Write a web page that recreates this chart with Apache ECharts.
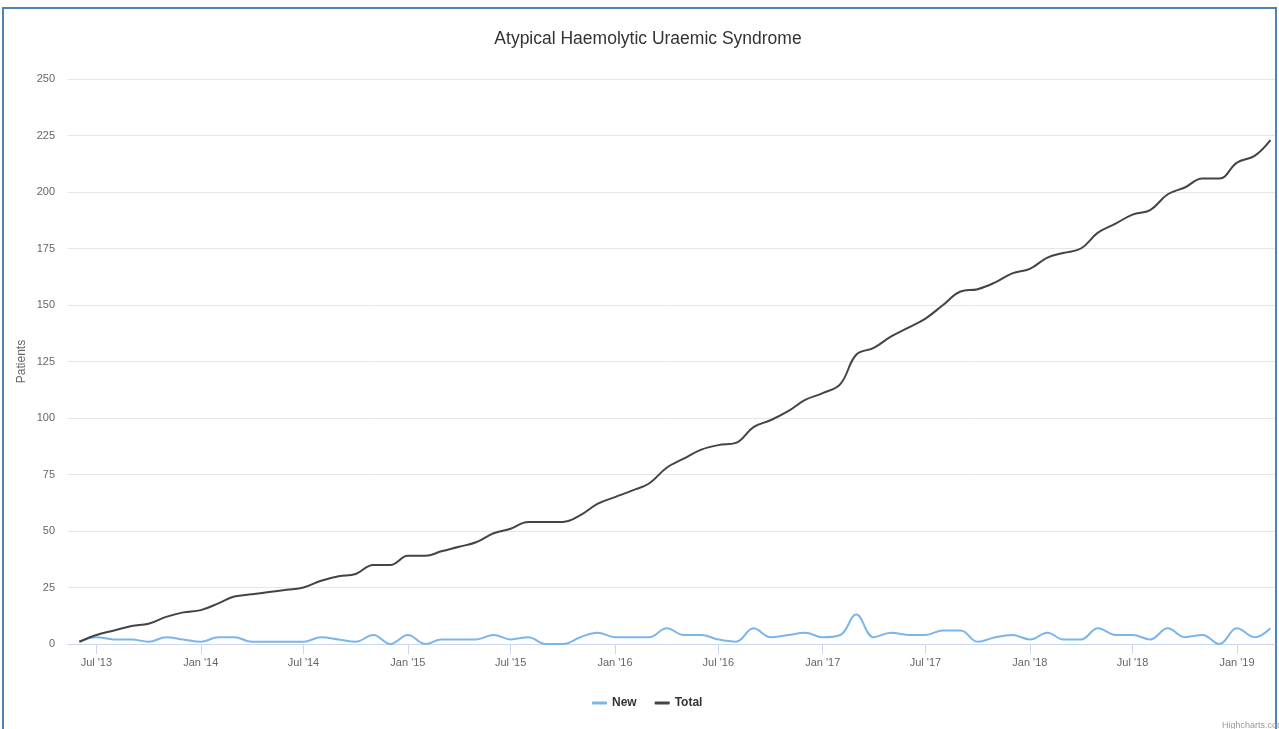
<!DOCTYPE html>
<html>
<head>
<meta charset="utf-8">
<script src="https://cdn.jsdelivr.net/npm/echarts@6/dist/echarts.min.js"></script>
<style>
  html, body { margin: 0; padding: 0; background: #ffffff; }
  #chart { width: 1279px; height: 729px; }
</style>
</head>
<body>
<div id="chart"></div>
<script>
const months = [
  '2013-06-01','2013-07-01','2013-08-01','2013-09-01','2013-10-01','2013-11-01','2013-12-01',
  '2014-01-01','2014-02-01','2014-03-01','2014-04-01','2014-05-01','2014-06-01','2014-07-01','2014-08-01','2014-09-01','2014-10-01','2014-11-01','2014-12-01',
  '2015-01-01','2015-02-01','2015-03-01','2015-04-01','2015-05-01','2015-06-01','2015-07-01','2015-08-01','2015-09-01','2015-10-01','2015-11-01','2015-12-01',
  '2016-01-01','2016-02-01','2016-03-01','2016-04-01','2016-05-01','2016-06-01','2016-07-01','2016-08-01','2016-09-01','2016-10-01','2016-11-01','2016-12-01',
  '2017-01-01','2017-02-01','2017-03-01','2017-04-01','2017-05-01','2017-06-01','2017-07-01','2017-08-01','2017-09-01','2017-10-01','2017-11-01','2017-12-01',
  '2018-01-01','2018-02-01','2018-03-01','2018-04-01','2018-05-01','2018-06-01','2018-07-01','2018-08-01','2018-09-01','2018-10-01','2018-11-01','2018-12-01',
  '2019-01-01','2019-02-01','2019-03-01'
];

const newPatients = [
  1,3,2,2,1,3,2,
  1,3,3,1,1,1,1,3,2,1,4,0,
  4,0,2,2,2,4,2,3,0,0,3,5,
  3,3,3,7,4,4,2,1,7,3,4,5,
  3,4,13,3,5,4,4,6,6,1,3,4,
  2,5,2,2,7,4,4,2,7,3,4,0,
  7,3,7
];

const totalPatients = [
  1,4,6,8,9,12,14,
  15,18,21,22,23,24,25,28,30,31,35,35,
  39,39,41,43,45,49,51,54,54,54,57,62,
  65,68,71,78,82,86,88,89,96,99,103,108,
  111,115,128,131,136,140,144,150,156,157,160,164,
  166,171,173,175,182,186,190,192,199,202,206,206,
  213,216,223
];

const tickDates = ['2013-07-01','2014-01-01','2014-07-01','2015-01-01','2015-07-01','2016-01-01',
                   '2016-07-01','2017-01-01','2017-07-01','2018-01-01','2018-07-01','2019-01-01'];
const tickLabels = ["Jul '13","Jan '14","Jul '14","Jan '15","Jul '15","Jan '16",
                    "Jul '16","Jan '17","Jul '17","Jan '18","Jul '18","Jan '19"];

const yTicks = [0, 25, 50, 75, 100, 125, 150, 175, 200, 225, 250];

const seriesNames = ['New', 'Total'];
const titleText = 'Atypical Haemolytic Uraemic Syndrome';
const yAxisTitle = 'Patients';

const parse = (s) => +echarts.time.parse(s);
const tickTs = tickDates.map(parse);
const labelMap = {};
tickTs.forEach((t, i) => { labelMap[t] = tickLabels[i]; });

const FONT = '"Liberation Sans", Arial, Helvetica, sans-serif';

const chart = echarts.init(document.getElementById('chart'), null, { renderer: 'canvas' });

chart.setOption({
  backgroundColor: '#ffffff',
  animation: false,
  textStyle: { fontFamily: FONT },
  title: {
    text: titleText,
    left: 643,
    top: 25,
    textAlign: 'center',
    textStyle: { fontSize: 17.5, fontWeight: 'normal', color: '#333333', fontFamily: FONT }
  },
  legend: {
    data: seriesNames,
    left: 587,
    top: 692,
    icon: 'roundRect',
    itemWidth: 15,
    itemHeight: 3,
    itemGap: 18,
    textStyle: { fontSize: 12, fontWeight: 'bold', color: '#333333', fontFamily: FONT }
  },
  grid: { left: 68, right: 4, top: 79, bottom: 85, containLabel: false },
  xAxis: {
    type: 'value',
    min: parse('2013-05-12'),
    max: parse('2019-03-09'),
    axisLine: { show: true, onZero: false, lineStyle: { color: '#ccd6eb', width: 1 } },
    axisTick: { show: true, length: 10, customValues: tickTs, lineStyle: { color: '#ccd6eb' } },
    axisLabel: {
      customValues: tickTs,
      margin: 13,
      fontSize: 11,
      color: '#666666',
      fontFamily: FONT,
      formatter: (v) => labelMap[v] || ''
    },
    splitLine: { show: false }
  },
  yAxis: {
    type: 'value',
    min: 0,
    max: 250,
    interval: 25,
    name: yAxisTitle,
    nameLocation: 'middle',
    nameRotate: 90,
    nameGap: 40,
    nameMoveOverlap: false,
    nameTextStyle: { fontSize: 12, color: '#666666', fontFamily: FONT },
    axisLine: { show: false },
    axisTick: { show: false },
    axisLabel: { margin: 13, fontSize: 11, color: '#666666', fontFamily: FONT },
    splitLine: { show: true, lineStyle: { color: '#e6e6e6', width: 1 } }
  },
  series: [
    {
      name: seriesNames[0],
      type: 'line',
      smooth: 0.4,
      symbol: 'none',
      color: '#7cb5ec',
      lineStyle: { width: 2, color: '#7cb5ec' },
      data: months.map((m, i) => [parse(m), newPatients[i]])
    },
    {
      name: seriesNames[1],
      type: 'line',
      smooth: 0.4,
      symbol: 'none',
      color: '#434348',
      lineStyle: { width: 2, color: '#434348' },
      data: months.map((m, i) => [parse(m), totalPatients[i]])
    }
  ],
  graphic: [
    {
      type: 'rect',
      silent: true,
      shape: { x: 3, y: 8, width: 1273, height: 740 },
      style: { fill: 'none', stroke: '#4f81bd', lineWidth: 2 }
    },
    {
      type: 'text',
      silent: true,
      style: {
        text: 'Highcharts.com',
        x: 1222,
        y: 726,
        textVerticalAlign: 'middle',
        font: '9px ' + FONT,
        fill: '#999999'
      }
    }
  ]
});
</script>
</body>
</html>
